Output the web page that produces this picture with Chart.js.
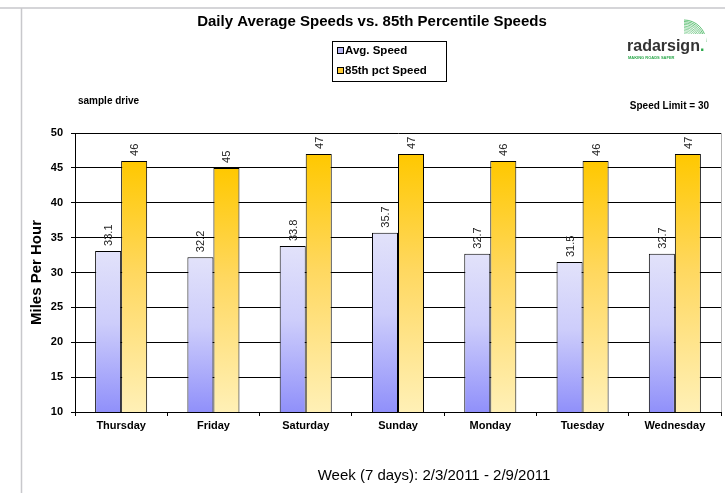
<!DOCTYPE html>
<html>
<head>
<meta charset="utf-8">
<script src="https://cdn.jsdelivr.net/npm/chart.js@4"></script>
<style>
    html, body { margin: 0; padding: 0; background: #ffffff; }
    #wrap { width: 725px; height: 493px; position: relative; }
</style>
</head>
<body>
<div id="wrap"><canvas id="speedChart" width="725" height="493"></canvas></div>
<script>
"use strict";

// Chart data
var days = ['Thursday', 'Friday', 'Saturday', 'Sunday', 'Monday', 'Tuesday', 'Wednesday'];
var avgSpeed = [33.1, 32.2, 33.8, 35.7, 32.7, 31.5, 32.7];
var pct85Speed = [46, 45, 47, 47, 46, 46, 47];
var seriesNames = ['Avg. Speed', '85th pct Speed'];
var yMin = 10;
var yMax = 50;
var yStep = 5;

var chartTitle = 'Daily Average Speeds vs. 85th Percentile Speeds';
var xTitle = 'Week (7 days): 2/3/2011 - 2/9/2011';
var yTitle = 'Miles Per Hour';
var siteName = 'sample drive';
var speedLimitText = 'Speed Limit = 30';

var fontFamily = "'Liberation Sans', Arial, sans-serif";

// Gradient per bar, from its top down to the axis
var barGradient = function (context, topColor, midColor, bottomColor) {
    var chart = context.chart;
    if (!chart.chartArea || context.type !== 'data') return topColor;
    var yScale = chart.scales.y;
    var yTop = yScale.getPixelForValue(context.raw);
    var yBottom = yScale.getPixelForValue(yScale.min);
    var g = chart.ctx.createLinearGradient(0, yTop, 0, yBottom);
    g.addColorStop(0, topColor);
    g.addColorStop(0.45, midColor);
    g.addColorStop(1, bottomColor);
    return g;
};

// Frame, right border of the plot, headings, legend and logo
var decorPlugin = {
    id: 'decor',
    beforeDraw: function (chart) {
        var ctx = chart.ctx;
        ctx.save();
        ctx.strokeStyle = '#c8c8cc';
        ctx.lineWidth = 1.5;
        ctx.beginPath();
        ctx.moveTo(0, 8);
        ctx.lineTo(725, 8);
        ctx.moveTo(21.5, 8);
        ctx.lineTo(21.5, 493);
        ctx.stroke();
        ctx.restore();
    },
    afterDraw: function (chart) {
        var ctx = chart.ctx;
        var area = chart.chartArea;
        ctx.save();

        // plot area right border
        ctx.strokeStyle = '#b4b4b4';
        ctx.lineWidth = 1;
        ctx.beginPath();
        ctx.moveTo(area.right + 0.5, area.top);
        ctx.lineTo(area.right + 0.5, area.bottom);
        ctx.stroke();

        // main title
        ctx.fillStyle = '#000000';
        ctx.textBaseline = 'middle';
        ctx.textAlign = 'center';
        ctx.font = 'bold 15px ' + fontFamily;
        ctx.fillText(chartTitle, 372, 22);

        // x axis title
        ctx.font = '15px ' + fontFamily;
        ctx.fillText(xTitle, 434, 476);

        // notes
        ctx.font = 'bold 10px ' + fontFamily;
        ctx.textAlign = 'left';
        ctx.fillText(siteName, 78, 101);
        ctx.textAlign = 'right';
        ctx.fillText(speedLimitText, 709, 106);

        // legend box
        ctx.fillStyle = '#ffffff';
        ctx.fillRect(332, 41, 114, 41);
        ctx.strokeStyle = '#000000';
        ctx.strokeRect(332.5, 41.5, 114, 40);
        var swatches = ['#b4b4f4', '#ffcc33'];
        var rows = [51, 71];
        ctx.font = 'bold 11.5px ' + fontFamily;
        ctx.textAlign = 'left';
        for (var i = 0; i < seriesNames.length; i++) {
            ctx.fillStyle = swatches[i];
            ctx.fillRect(337.5, rows[i] - 3.5, 6, 6);
            ctx.strokeStyle = '#000000';
            ctx.strokeRect(337.5, rows[i] - 3.5, 6, 6);
            ctx.fillStyle = '#000000';
            ctx.fillText(seriesNames[i], 345, rows[i]);
        }

        // logo
        for (var r = 4; r <= 22; r += 1.5) {
            ctx.strokeStyle = 'rgba(40, 170, 70, ' + (0.2 + r / 30) + ')';
            ctx.lineWidth = 0.8;
            ctx.beginPath();
            ctx.arc(684, 42, r, -Math.PI / 2, 0);
            ctx.stroke();
        }
        ctx.fillStyle = '#ffffff';
        ctx.fillRect(626, 34, 80, 16);
        ctx.fillStyle = '#333333';
        ctx.font = 'bold 16px ' + fontFamily;
        ctx.textAlign = 'left';
        ctx.textBaseline = 'alphabetic';
        ctx.fillText('radarsign', 627, 51);
        ctx.fillStyle = '#2aa84a';
        ctx.fillText('.', 700, 51);
        ctx.font = 'bold 4px ' + fontFamily;
        ctx.fillText('MAKING ROADS SAFER', 628, 59);

        ctx.restore();
    }
};

// Rotated value labels above each bar
var valueLabelPlugin = {
    id: 'valueLabels',
    afterDatasetsDraw: function (chart) {
        var ctx = chart.ctx;
        ctx.save();
        ctx.font = '11px ' + fontFamily;
        ctx.fillStyle = '#222222';
        ctx.textAlign = 'left';
        ctx.textBaseline = 'middle';
        chart.data.datasets.forEach(function (ds, di) {
            var meta = chart.getDatasetMeta(di);
            meta.data.forEach(function (bar, i) {
                ctx.save();
                ctx.translate(bar.x + 1, bar.y - 5);
                ctx.rotate(-Math.PI / 2);
                ctx.fillText(String(ds.data[i]), 0, 0);
                ctx.restore();
            });
        });
        ctx.restore();
    }
};

var canvas = document.getElementById('speedChart');
var chart = new Chart(canvas.getContext('2d'), {
    type: 'bar',
    data: {
        labels: days,
        datasets: [{
            label: seriesNames[0],
            data: avgSpeed,
            backgroundColor: function (c) { return barGradient(c, '#e2e2fa', '#cdcdfb', '#9090fa'); },
            borderColor: '#000000',
            borderWidth: 1,
            borderSkipped: false
        }, {
            label: seriesNames[1],
            data: pct85Speed,
            backgroundColor: function (c) { return barGradient(c, '#ffc800', '#ffd860', '#fff0b6'); },
            borderColor: '#000000',
            borderWidth: 1,
            borderSkipped: false
        }]
    },
    options: {
        responsive: false,
        animation: false,
        devicePixelRatio: 1,
        categoryPercentage: 0.564,
        barPercentage: 1,
        layout: {
            padding: { left: 0, right: 4, top: 133, bottom: 0 }
        },
        plugins: {
            legend: { display: false },
            title: { display: false },
            tooltip: { enabled: false }
        },
        scales: {
            x: {
                offset: true,
                grid: {
                    offset: true,
                    drawOnChartArea: false,
                    drawTicks: true,
                    tickLength: 4,
                    color: '#000000'
                },
                border: { color: '#000000', width: 1 },
                ticks: {
                    color: '#000000',
                    padding: 3,
                    maxRotation: 0,
                    font: { family: fontFamily, size: 11, weight: 'bold' }
                },
                afterFit: function (scale) { scale.height = 81; }
            },
            y: {
                min: yMin,
                max: yMax,
                grid: {
                    color: '#000000',
                    tickLength: 4
                },
                border: { color: '#000000', width: 1 },
                ticks: {
                    stepSize: yStep,
                    color: '#000000',
                    padding: 8,
                    font: { family: fontFamily, size: 11, weight: 'bold' }
                },
                title: {
                    display: true,
                    text: yTitle,
                    color: '#000000',
                    padding: { top: 28 },
                    font: { family: fontFamily, size: 15, weight: 'bold' }
                },
                afterFit: function (scale) { scale.width = 75; }
            }
        }
    },
    plugins: [decorPlugin, valueLabelPlugin]
});
</script>
</body>
</html>
